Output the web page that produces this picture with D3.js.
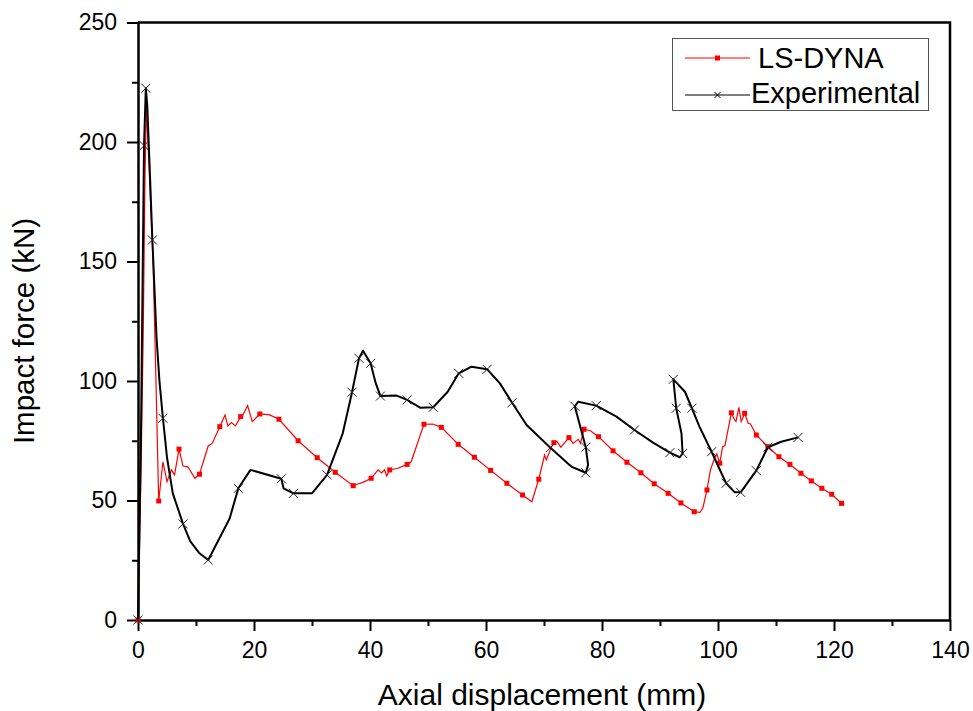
<!DOCTYPE html>
<html>
<head>
<meta charset="utf-8">
<script src="https://cdn.jsdelivr.net/npm/d3@7"></script>
<style>
  body { margin: 0; background: #fff; }
  svg text { font-family: "Liberation Sans", Arial, sans-serif; fill: #000; }
</style>
</head>
<body>
<div id="chart"></div>
<script>
// x (mm), y (kN), m = 1 where the curve carries a symbol
var dynaPts = [
  [0,0,1],[0.5,60,0],[0.9,120,0],[1.2,185,0],[1.45,214.8,0],[1.9,190,0],[2.6,150,0],[3.0,110,0],
  [3.57,49.8,1],[4.3,66.2,0],[5.0,57.9,0],[5.76,62.8,0],[6.3,60.7,0],[7.07,71.5,1],[7.76,64.4,0],
  [8.6,64.1,0],[9.8,59.3,0],[10.6,61.0,1],[12.1,72.8,0],[12.8,73.9,0],[14.1,80.9,1],[15.0,85.8,0],
  [15.5,81.2,0],[16.1,82.6,0],[16.8,81.2,0],[17.7,85.1,1],[18.1,85.8,0],[18.9,89.7,0],[19.7,83.0,0],
  [21.0,86.2,1],[22.7,85.8,0],[24.3,84.0,1],[27.6,75.0,1],[30.9,67.9,1],[34.0,61.8,1],[37.1,56.2,1],
  [37.9,56.9,0],[38.8,57.6,0],[40.2,59.3,1],[41.4,62.8,0],[42.0,61.5,0],[42.5,62.8,0],[42.9,60.3,0],
  [43.4,62.8,1],[44.8,63.5,0],[46.4,65.1,1],[47.1,66.2,0],[49.3,81.9,1],[50.8,82.0,0],[52.3,80.6,1],
  [54.2,76.0,0],[55.2,73.5,1],[58.0,68.1,1],[60.8,62.6,1],[63.6,57.2,1],[66.3,52.3,1],[67.9,49.5,0],
  [69.1,58.9,1],[70.1,69.0,0],[70.4,67.0,0],[71.3,72.5,0],[71.7,74.2,1],[72.2,74.8,0],[72.9,72.3,0],
  [74.3,76.3,1],[75.0,73.9,0],[75.9,75.6,0],[76.3,73.9,0],[76.9,79.8,1],[78.0,79.2,0],[79.4,76.7,1],
  [81.9,70.8,1],[84.3,66.0,1],[86.7,61.6,1],[89.0,57.0,1],[91.4,53.0,1],[93.6,49.0,1],[95.9,45.3,1],
  [96.9,45.0,0],[97.4,47.0,0],[98.1,54.4,1],[98.7,62.8,0],[99.4,67.7,0],[99.8,69.5,0],[100.3,65.6,1],
  [100.8,72.5,0],[101.2,73.0,0],[102.3,86.7,1],[102.8,84.0,0],[103.1,83.0,0],[103.6,89.0,0],
  [104.0,83.0,0],[104.6,86.5,1],[105.2,82.3,0],[105.6,82.0,0],[106.6,77.4,1],[108.6,72.5,1],
  [110.5,68.3,1],[112.4,65.1,1],[114.3,61.4,1],[116.1,58.2,1],[117.9,55.1,1],[119.6,52.6,1],
  [121.3,48.8,1],[121.8,48.5,0]
];

var expPts = [
  [0,0,1],[0.5,75,0],[1.04,198.5,1],[1.35,222.5,1],[1.6,215,0],[2.0,190,0],[2.48,159,1],[3.2,118,0],
  [3.7,100,0],[4.3,84.4,1],[5.0,68,0],[6.0,53,0],[7.76,40.2,1],[9.0,33,0],[10.6,27.9,0],[12.1,25.1,1],
  [14.0,34,0],[15.8,42.5,0],[17.3,55.1,1],[19.4,62.8,0],[24.7,59.1,1],[25.1,55.1,0],[26.8,53,1],
  [30.0,53,0],[32.6,60.7,1],[35.3,78.1,0],[36.9,95.3,1],[38.1,109.5,1],[38.8,112.7,0],[40.1,107.4,1],
  [41.0,99,0],[41.8,93.7,1],[44.6,93.9,0],[46.4,92.1,1],[48.7,88.8,0],[50.9,89,1],[53.4,95.5,0],
  [55.3,103.2,1],[57.5,106,0],[60.2,104.9,1],[62.4,99,0],[64.5,90.9,1],[67.0,81.6,0],[71.1,72.1,1],
  [74.7,64.2,0],[77.2,61.6,1],[77.6,64.9,0],[77.2,72.3,1],[75.3,89.5,1],[75.9,91.3,0],[79.0,89.7,1],
  [82.5,85.1,0],[85.6,79.5,1],[88.8,74.2,0],[91.7,70,1],[93.4,68.1,0],[93.9,69.7,1],[93.7,78.1,0],
  [92.8,88.6,1],[92.3,100.7,1],[94.3,95.5,0],[95.5,88.6,1],[96.8,80.9,0],[98.9,70.4,1],[100.2,63.5,0],
  [101.4,57.2,1],[102.9,53.4,0],[103.9,53.4,1],[106.6,62.5,1],[108.6,72.3,1],[110.9,74.6,0],[113.8,76.4,1]
];

var xTicks = [0, 20, 40, 60, 80, 100, 120, 140];
var yTicks = [0, 50, 100, 150, 200, 250];
var seriesNames = ["LS-DYNA", "Experimental"];

var W = 973, H = 711;
var x0 = 138, x1 = 950, y0 = 620, y1 = 22.5;

var svg = d3.select("#chart").append("svg")
            .attr("width", W).attr("height", H);

var x = d3.scaleLinear().domain([0, 140]).range([x0, x1]);
var y = d3.scaleLinear().domain([0, 250]).range([y0, y1]);

// minor ticks
var xMinor = d3.axisBottom(x).tickValues(d3.range(10, 140, 20)).tickSize(6).tickFormat("");
var yMinor = d3.axisLeft(y).tickValues(d3.range(25, 250, 50)).tickSize(6).tickFormat("");

svg.append("g").attr("transform", "translate(0," + y0 + ")").call(xMinor)
   .call(function(g){ g.select(".domain").remove(); });
svg.append("g").attr("transform", "translate(" + x0 + ",0)").call(yMinor)
   .call(function(g){ g.select(".domain").remove(); });

var xAxis = d3.axisBottom(x).tickValues(xTicks).tickSize(11).tickSizeOuter(0).tickPadding(11);
var yAxis = d3.axisLeft(y).tickValues(yTicks).tickSize(11).tickSizeOuter(0).tickPadding(10);

svg.append("g").attr("class", "xaxis").attr("transform", "translate(0," + y0 + ")").call(xAxis);
svg.append("g").attr("class", "yaxis").attr("transform", "translate(" + x0 + ",0)").call(yAxis);

svg.selectAll(".xaxis text, .yaxis text")
   .attr("font-size", "23px")
   .attr("font-family", "Liberation Sans, Arial, sans-serif");
svg.selectAll(".tick line").attr("stroke", "#000").attr("stroke-width", 2);
svg.selectAll(".domain").attr("stroke", "#000").attr("stroke-width", 2.5);

// top and right frame
svg.append("path")
   .attr("d", "M" + x0 + "," + y1 + "H" + x1 + "V" + y0)
   .attr("fill", "none").attr("stroke", "#000").attr("stroke-width", 2.5);

var line = d3.line().x(function(d){ return x(d[0]); }).y(function(d){ return y(d[1]); });

// LS-DYNA
svg.append("path").datum(dynaPts).attr("d", line)
   .attr("fill", "none").attr("stroke", "#ff0000").attr("stroke-width", 1.2);
svg.selectAll(".sq").data(dynaPts.filter(function(d){ return d[2]; }))
   .enter().append("rect").attr("class", "sq")
   .attr("x", function(d){ return x(d[0]) - 2.5; })
   .attr("y", function(d){ return y(d[1]) - 2.5; })
   .attr("width", 5).attr("height", 5).attr("fill", "#ff0000");

// Experimental
svg.append("path").datum(expPts).attr("d", line)
   .attr("fill", "none").attr("stroke", "#000").attr("stroke-width", 2)
   .attr("stroke-linejoin", "round");
var cross = "M-4.5,-4.5L4.5,4.5M-4.5,4.5L4.5,-4.5";
svg.selectAll(".cx").data(expPts.filter(function(d){ return d[2]; }))
   .enter().append("path").attr("class", "cx")
   .attr("transform", function(d){ return "translate(" + x(d[0]) + "," + y(d[1]) + ")"; })
   .attr("d", cross).attr("stroke", "#222").attr("stroke-width", 1).attr("fill", "none");

// axis titles
svg.append("text").attr("x", (x0 + x1) / 2 - 2).attr("y", 705)
   .attr("text-anchor", "middle").attr("font-size", "30px")
   .text("Axial displacement (mm)");
svg.append("text").attr("transform", "translate(34," + 331 + ") rotate(-90)")
   .attr("text-anchor", "middle").attr("font-size", "29.5px")
   .text("Impact force (kN)");

// legend
var lg = svg.append("g");
lg.append("rect").attr("x", 672.5).attr("y", 38.5).attr("width", 256).attr("height", 72)
  .attr("fill", "#fff").attr("stroke", "#555").attr("stroke-width", 1);
lg.append("line").attr("x1", 685).attr("x2", 750).attr("y1", 58).attr("y2", 58)
  .attr("stroke", "#ff0000").attr("stroke-width", 1.2);
lg.append("rect").attr("x", 715).attr("y", 55.5).attr("width", 5).attr("height", 5).attr("fill", "#ff0000");
lg.append("line").attr("x1", 685).attr("x2", 750).attr("y1", 95).attr("y2", 95)
  .attr("stroke", "#000").attr("stroke-width", 1.2);
lg.append("path").attr("transform", "translate(717.5,95)").attr("d", "M-3,-3L3,3M-3,3L3,-3")
  .attr("stroke", "#000").attr("stroke-width", 1);
lg.append("text").attr("x", 758).attr("y", 68).attr("font-size", "29px").text(seriesNames[0]);
lg.append("text").attr("x", 751).attr("y", 103).attr("font-size", "29px").text(seriesNames[1]);
</script>
</body>
</html>
